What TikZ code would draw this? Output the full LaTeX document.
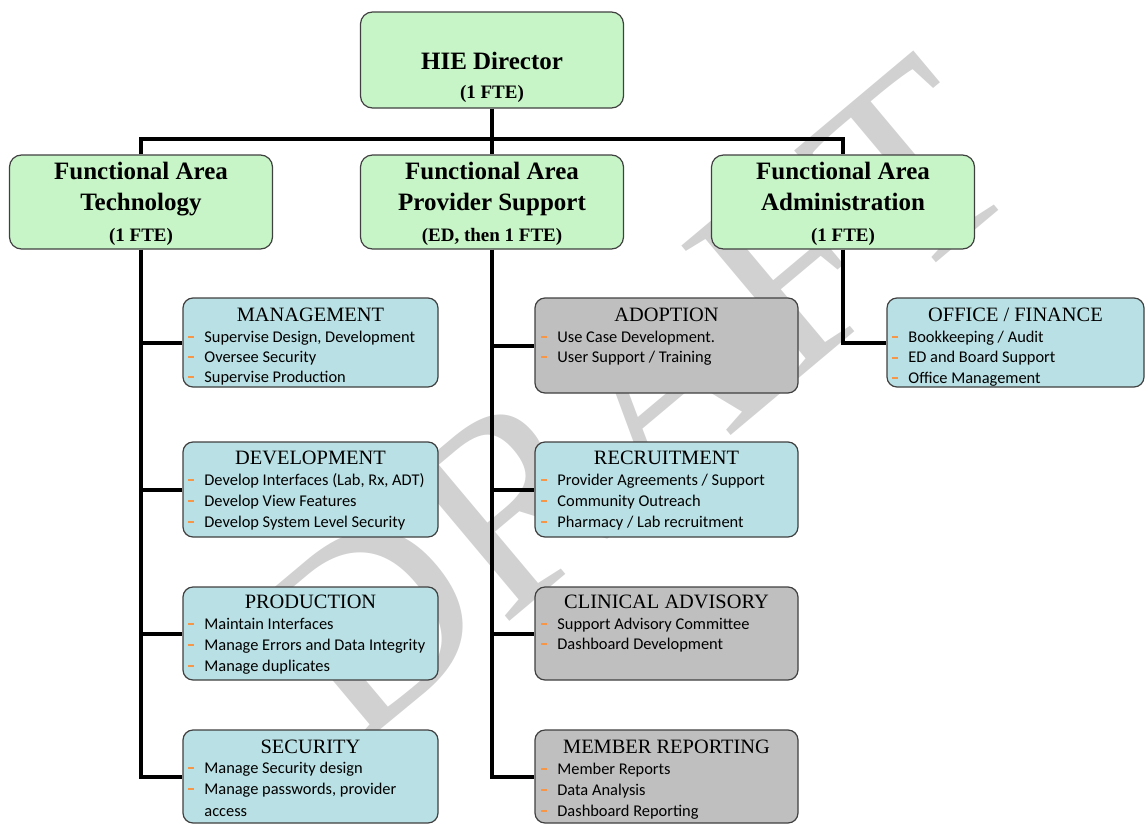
\documentclass[tikz,border=0pt]{standalone}
\usepackage{fontspec}
\setmainfont{Liberation Serif}
\newfontfamily\calfont{Carlito}
\definecolor{boxgreen}{RGB}{200,245,200}
\definecolor{boxblue}{RGB}{185,224,228}
\definecolor{boxgray}{RGB}{191,191,191}
\definecolor{boxline}{RGB}{64,64,64}
\definecolor{dashorange}{RGB}{247,150,70}
\newcommand{\dashitem}{\makebox[8pt][l]{\textcolor{dashorange}{\rule[0.22em]{0.32em}{0.14em}}}}
\begin{document}
\begin{tikzpicture}[x=0.5pt,y=-0.5pt,
    box/.style={draw=boxline,line width=0.6pt,rounded corners=5pt,inner sep=0pt},
    area/.style={box,fill=boxgreen,rounded corners=6pt,minimum width=131.5pt,minimum height=47pt},
    bluebox/.style={box,fill=boxblue},
    graybox/.style={box,fill=boxgray},
    areatext/.style={align=center,inner sep=0pt,font=\bfseries\fontsize{12.5}{15.5}\selectfont},
    head/.style={inner sep=0pt,font=\fontsize{10.2}{12}\selectfont},
    item/.style={anchor=base west,inner sep=0pt,font=\calfont\fontsize{8.2}{10}\selectfont},
    conn/.style={line width=2pt}]
    \useasboundingbox (0,0) rectangle (1146,825);
    \node[rotate=40,text=black!18,font=\fontsize{135}{135}\selectfont] (draft) at (635,400) {DRAFT};

    \node[area,minimum height=48pt] (dir) at (492,60) {};
    \node[areatext,font=\bfseries\fontsize{12.5}{14.5}\selectfont] (dir-t) at (492,77) {HIE Director\\{\fontsize{9.5}{14.5}\selectfont (1 FTE)}};
    \node[area] (tech) at (141,202) {};
    \node[areatext] (tech-t) at (141,204) {Functional Area\\Technology\\{\fontsize{9.5}{15.5}\selectfont (1 FTE)}};
    \node[area] (prov) at (492,202) {};
    \node[areatext] (prov-t) at (492,204) {Functional Area\\Provider Support\\{\fontsize{9.5}{15.5}\selectfont (ED, then 1 FTE)}};
    \node[area] (admin) at (843,202) {};
    \node[areatext] (admin-t) at (843,204) {Functional Area\\Administration\\{\fontsize{9.5}{15.5}\selectfont (1 FTE)}};

    \node[bluebox,minimum width=127.5pt,minimum height=44.5pt] (mgmt) at (310.5,342.5) {};
    \node[head] (mgmt-h) at (310.5,315) {MANAGEMENT};
    \foreach \t [count=\i] in {{Supervise Design, Development},{Oversee Security},{Supervise Production}}
        \node[item] (mgmt-\i) at (188,{342+20*(\i-1)}) {\dashitem\t};

    \node[bluebox,minimum width=127.5pt,minimum height=47.5pt] (dev) at (310.5,489.5) {};
    \node[head] (dev-h) at (310.5,458) {DEVELOPMENT};
    \foreach \t [count=\i] in {{Develop Interfaces (Lab, Rx, ADT)},{Develop View Features},{Develop System Level Security}}
        \node[item] (dev-\i) at (188,{485+21*(\i-1)}) {\dashitem\t};

    \node[bluebox,minimum width=127.5pt,minimum height=46.5pt] (prod) at (310.5,633.5) {};
    \node[head] (prod-h) at (310.5,602) {PRODUCTION};
    \foreach \t [count=\i] in {{Maintain Interfaces},{Manage Errors and Data Integrity},{Manage duplicates}}
        \node[item] (prod-\i) at (188,{629+21*(\i-1)}) {\dashitem\t};

    \node[bluebox,minimum width=127.5pt,minimum height=46.5pt] (sec) at (310.5,776.5) {};
    \node[head] (sec-h) at (310.5,747) {SECURITY};
    \node[item] (sec-1) at (188,773) {\dashitem Manage Security design};
    \node[item] (sec-2) at (188,794) {\dashitem Manage passwords, provider};
    \node[item] (sec-3) at (188,816) {\hspace{8pt}access};

    \node[graybox,minimum width=131.5pt,minimum height=47.5pt] (adop) at (666.5,345.5) {};
    \node[head] (adop-h) at (666.5,315) {ADOPTION};
    \foreach \t [count=\i] in {{Use Case Development.},{User Support / Training}}
        \node[item] (adop-\i) at (541,{342+20*(\i-1)}) {\dashitem\t};

    \node[bluebox,minimum width=131.5pt,minimum height=47.5pt] (recr) at (666.5,489.5) {};
    \node[head] (recr-h) at (666.5,458) {RECRUITMENT};
    \foreach \t [count=\i] in {{Provider Agreements / Support},{Community Outreach},{Pharmacy / Lab recruitment}}
        \node[item] (recr-\i) at (541,{485+21*(\i-1)}) {\dashitem\t};

    \node[graybox,minimum width=131.5pt,minimum height=46.5pt] (clin) at (666.5,633.5) {};
    \node[head] (clin-h) at (666.5,602) {CLINICAL ADVISORY};
    \foreach \t [count=\i] in {{Support Advisory Committee},{Dashboard Development}}
        \node[item] (clin-\i) at (541,{629+20*(\i-1)}) {\dashitem\t};

    \node[graybox,minimum width=131.5pt,minimum height=46.5pt] (memb) at (666.5,776.5) {};
    \node[head] (memb-h) at (666.5,747) {MEMBER REPORTING};
    \foreach \t [count=\i] in {{Member Reports},{Data Analysis},{Dashboard Reporting}}
        \node[item] (memb-\i) at (541,{774+21*(\i-1)}) {\dashitem\t};

    \node[bluebox,minimum width=128.5pt,minimum height=44.5pt] (office) at (1015.5,342.5) {};
    \node[head] (office-h) at (1015.5,315) {OFFICE / FINANCE};
    \foreach \t [count=\i] in {{Bookkeeping / Audit},{ED and Board Support},{Office Management}}
        \node[item] (office-\i) at (892,{342+20.5*(\i-1)}) {\dashitem\t};

    \coordinate (bar) at (492,139);
    \draw[conn] (dir.south) -- (prov.north);
    \draw[conn] (tech.north) -- (tech.north |- bar) -- (admin.north |- bar) -- (admin.north);
    \draw[conn] (tech.south) -- (tech.south |- sec.west) -- (sec.west);
    \foreach \b in {mgmt,dev,prod}
        \draw[conn] (tech.south |- \b.west) -- (\b.west);
    \draw[conn] (prov.south) -- (prov.south |- memb.west) -- (memb.west);
    \foreach \b in {adop,recr,clin}
        \draw[conn] (prov.south |- \b.west) -- (\b.west);
    \draw[conn] (admin.south) |- (office.west);
\end{tikzpicture}
\end{document}
